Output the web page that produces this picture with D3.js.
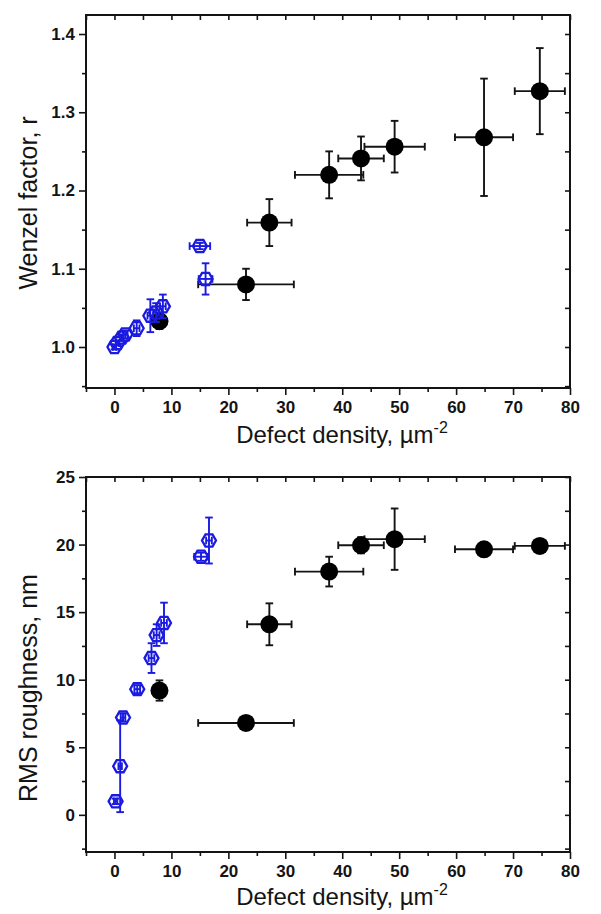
<!DOCTYPE html>
<html><head><meta charset="utf-8">
<script src="https://cdn.jsdelivr.net/npm/d3@7"></script>
<style>body{margin:0;background:#fff}svg{display:block}</style>
</head><body><svg id="chart" width="601" height="914"></svg>
<script>
// ---- data ----
const densityTicks = [0, 10, 20, 30, 40, 50, 60, 70, 80];
const densityMinor = [-5, 5, 15, 25, 35, 45, 55, 65, 75];
const wenzelTicks = [1.0, 1.1, 1.2, 1.3, 1.4];
const wenzelMinor = [0.95, 1.05, 1.15, 1.25, 1.35];
const rmsTicks = [0, 5, 10, 15, 20, 25];
const rmsMinor = [-2.5, 2.5, 7.5, 12.5, 17.5, 22.5];

// filled black series (shared densities)
const blackDensity    = [7.9, 23.1, 27.2, 37.7, 43.3, 49.2, 64.9, 74.7];
const blackDensityErr = [0.4, 8.4, 3.9, 6.0, 4.0, 5.3, 5.1, 4.4];
const blackWenzel     = [1.033, 1.080, 1.159, 1.220, 1.241, 1.256, 1.268, 1.327];
const blackWenzelErr  = [0.010, 0.020, 0.030, 0.030, 0.028, 0.033, 0.075, 0.055];
const blackRms        = [9.2, 6.8, 14.1, 18.0, 19.95, 20.4, 19.65, 19.9];
const blackRmsErr     = [0.75, 0.0, 1.55, 1.1, 0.6, 2.27, 0.5, 0.3];

// open blue series, top panel
const blueWDensity    = [0.0, 0.5, 1.3, 1.9, 3.9, 6.3, 7.3, 8.5, 15.0, 16.0];
const blueWDensityErr = [0.3, 0.3, 0.3, 0.4, 0.5, 0.5, 0.5, 0.5, 1.8, 1.2];
const blueWenzel      = [1.000, 1.005, 1.012, 1.016, 1.024, 1.040, 1.044, 1.052, 1.129, 1.087];
const blueWenzelErr   = [0.003, 0.003, 0.004, 0.005, 0.010, 0.021, 0.012, 0.015, 0.004, 0.020];

// open blue series, bottom panel
const blueRDensity    = [0.2, 1.0, 1.5, 4.0, 6.5, 7.4, 8.7, 15.2, 16.6];
const blueRDensityErr = [0.3, 0.3, 0.4, 0.5, 0.5, 0.5, 0.5, 1.2, 0.5];
const blueRms         = [1.0, 3.6, 7.2, 9.3, 11.6, 13.3, 14.2, 19.1, 20.3];
const blueRmsErr      = [0.2, 3.4, 0.3, 0.3, 1.1, 0.8, 1.5, 0.3, 1.7];

const svg = d3.select("#chart");
const BLUE = "#1a1ae0";
const INK = "#141414";
const L = 86, R = 570;

const x = d3.scaleLinear().domain([-5, 80]).range([L, R]);

function hexPath(r) {
  const pts = d3.range(6).map(i => {
    const a = Math.PI / 3 * i;
    return [r * Math.cos(a), r * Math.sin(a)];
  });
  return "M" + pts.map(p => p.join(",")).join("L") + "Z";
}

function panel(cfg) {
  const y = d3.scaleLinear().domain(cfg.yDomain).range([cfg.bottom, cfg.top]);
  const g = svg.append("g");

  const fmtX = d3.format("d");
  g.append("g").attr("transform", `translate(0,${cfg.bottom})`)
    .call(d3.axisBottom(x).tickValues(densityTicks).tickSize(7).tickPadding(6).tickFormat(fmtX));
  g.append("g").attr("transform", `translate(0,${cfg.bottom})`)
    .call(d3.axisBottom(x).tickValues(densityMinor).tickSize(4).tickFormat(""));
  g.append("g").attr("transform", `translate(0,${cfg.top})`)
    .call(d3.axisTop(x).tickValues(densityTicks.concat(densityMinor)).tickSize(-5).tickFormat(""));

  g.append("g").attr("transform", `translate(${L},0)`)
    .call(d3.axisLeft(y).tickValues(cfg.yTicks).tickSize(7).tickPadding(4).tickFormat(cfg.yFmt));
  g.append("g").attr("transform", `translate(${L},0)`)
    .call(d3.axisLeft(y).tickValues(cfg.yMinor).tickSize(4).tickFormat(""));
  g.append("g").attr("transform", `translate(${R},0)`)
    .call(d3.axisRight(y).tickValues(cfg.yTicks.concat(cfg.yMinor)).tickSize(-5).tickFormat(""));

  g.selectAll(".domain").remove();
  g.selectAll(".tick line").attr("stroke", INK).attr("stroke-width", 1.6);
  g.selectAll(".tick text").attr("fill", INK)
    .style("font-family", "'Liberation Sans', Arial, sans-serif")
    .style("font-size", "17px").style("font-weight", "bold");

  g.append("rect").attr("x", L).attr("y", cfg.top)
    .attr("width", R - L).attr("height", cfg.bottom - cfg.top)
    .attr("fill", "none").attr("stroke", INK).attr("stroke-width", 2);

  const xt = g.append("text").attr("x", 342).attr("y", cfg.bottom + cfg.titleGap)
    .attr("text-anchor", "middle").attr("fill", INK)
    .style("font-family", "'Liberation Sans', Arial, sans-serif").style("font-size", "24px");
  xt.append("tspan").text("Defect density, \u00b5m");
  xt.append("tspan").attr("dy", -10).style("font-size", "16px").text("-2");

  g.append("text")
    .attr("transform", `translate(37,${cfg.titleY}) rotate(-90)`)
    .attr("text-anchor", "middle").attr("fill", INK)
    .style("font-family", "'Liberation Sans', Arial, sans-serif").style("font-size", "25px")
    .text(cfg.yTitle);

  const plot = g.append("g");

  function errBars(xs, xe, ys, ye, color) {
    const eg = plot.append("g").attr("stroke", color).attr("stroke-width", 1.9).attr("fill", "none");
    const cap = 3.8;
    xs.forEach((xv, i) => {
      const cx = x(xv), cy = y(ys[i]);
      if (xe[i] > 0) {
        const x0 = x(xv - xe[i]), x1 = x(xv + xe[i]);
        eg.append("line").attr("x1", x0).attr("x2", x1).attr("y1", cy).attr("y2", cy);
        eg.append("line").attr("x1", x0).attr("x2", x0).attr("y1", cy - cap).attr("y2", cy + cap);
        eg.append("line").attr("x1", x1).attr("x2", x1).attr("y1", cy - cap).attr("y2", cy + cap);
      }
      if (ye[i] > 0) {
        const y0 = y(ys[i] - ye[i]), y1 = y(ys[i] + ye[i]);
        eg.append("line").attr("x1", cx).attr("x2", cx).attr("y1", y0).attr("y2", y1);
        eg.append("line").attr("x1", cx - cap).attr("x2", cx + cap).attr("y1", y0).attr("y2", y0);
        eg.append("line").attr("x1", cx - cap).attr("x2", cx + cap).attr("y1", y1).attr("y2", y1);
      }
    });
  }

  errBars(blackDensity, blackDensityErr, cfg.blackY, cfg.blackYErr, INK);
  plot.append("g").selectAll("circle").data(blackDensity).join("circle")
    .attr("cx", d => x(d)).attr("cy", (d, i) => y(cfg.blackY[i])).attr("r", 9)
    .attr("fill", "#000");

  errBars(cfg.blueX, cfg.blueXErr, cfg.blueY, cfg.blueYErr, BLUE);
  plot.append("g").selectAll("path").data(cfg.blueX).join("path")
    .attr("transform", (d, i) => `translate(${x(d)},${y(cfg.blueY[i])})`)
    .attr("d", hexPath(7))
    .attr("fill", "none").attr("stroke", BLUE).attr("stroke-width", 2.3);
}

panel({
  top: 15, bottom: 388, yDomain: [0.9476, 1.4243], titleGap: 55,
  yTicks: wenzelTicks, yMinor: wenzelMinor, yFmt: d3.format(".1f"),
  yTitle: "Wenzel factor, r", titleY: 203,
  blackY: blackWenzel, blackYErr: blackWenzelErr,
  blueX: blueWDensity, blueXErr: blueWDensityErr, blueY: blueWenzel, blueYErr: blueWenzelErr
});

panel({
  top: 477, bottom: 852, yDomain: [-2.75, 25], titleGap: 53,
  yTicks: rmsTicks, yMinor: rmsMinor, yFmt: d3.format("d"),
  yTitle: "RMS roughness, nm", titleY: 688,
  blackY: blackRms, blackYErr: blackRmsErr,
  blueX: blueRDensity, blueXErr: blueRDensityErr, blueY: blueRms, blueYErr: blueRmsErr
});
</script>
</body></html>
